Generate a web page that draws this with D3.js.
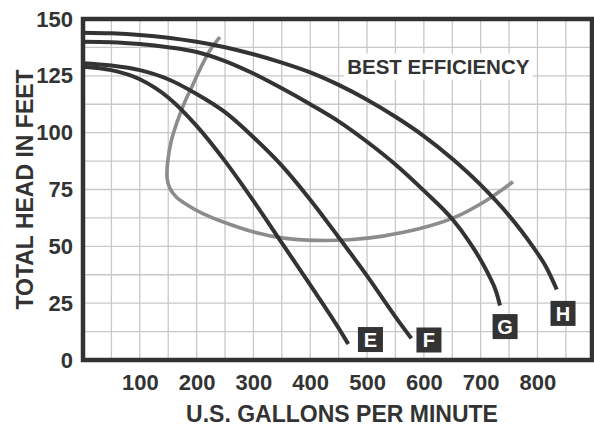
<!DOCTYPE html>
<html>
<head>
<meta charset="utf-8">
<script src="https://cdn.jsdelivr.net/npm/d3@7"></script>
<style>
body { margin: 0; background: #fff; }
svg text { font-family: "Liberation Sans", Arial, Helvetica, sans-serif; font-weight: bold; fill: #333; }
</style>
</head>
<body>
<svg id="chart" width="594" height="427"></svg>
<script>
// tick labels
var yTicks = [0, 25, 50, 75, 100, 125, 150];
var xTicks = [100, 200, 300, 400, 500, 600, 700, 800];

// pump curves, [gallons per minute, feet of head]
var curveE = [[0,129],[50,127.5],[100,123.5],[150,115.5],[200,103],[250,87.5],[300,70],[350,51.5],[400,33],[450,14],[467,7]];
var curveF = [[0,130.5],[50,129.5],[100,127.5],[150,123.5],[200,117],[250,109],[300,98],[350,85.5],[400,70.5],[450,54],[500,37],[550,19],[578,9.5]];
var curveG = [[0,140],[50,139.8],[100,139],[150,137.6],[200,135.5],[250,131.5],[300,126],[350,119.5],[400,112.5],[450,105],[500,96],[550,86],[600,74.5],[650,62],[680,52],[700,44],[715,37],[728,29.5],[734,24]];
var curveH = [[0,144],[50,143.7],[100,143],[150,141.8],[200,140],[250,137.6],[300,134.5],[350,130.8],[400,126.5],[450,121],[500,114.5],[550,107],[600,98.5],[650,88.5],[700,77],[750,63.5],[790,50.5],[815,41],[834,31]];

// best efficiency line
var bestEff = [[241,142],[225,136.8],[210,130],[195,122],[180,114],[166,105],[155,96],[149,87],[148,80],[153,75.5],[165,71.5],[185,68],[210,64.5],[246,60.8],[299,56.4],[353,53.6],[411,52.6],[470,52.9],[528,54.5],[593,57.8],[652,62.5],[710,70.2],[757,78.4]];

var curveNames = ["E", "F", "G", "H"];
var labelGal = [506, 609, 743, 845];
var labelFt = [9, 8.8, 14.7, 20.5];

var svg = d3.select("#chart");

var x = d3.scaleLinear().domain([0, 896]).range([83, 592]);
var y = d3.scaleLinear().domain([0, 150]).range([360, 19]);

// grid
svg.append("g").selectAll("line")
    .data(d3.range(50, 896, 50))
  .enter().append("line")
    .attr("x1", function(d) { return x(d); })
    .attr("x2", function(d) { return x(d); })
    .attr("y1", y(150)).attr("y2", y(0))
    .style("stroke", "#c8c8c8").style("stroke-width", 1.3);

svg.append("g").selectAll("line")
    .data(d3.range(12.5, 150, 12.5))
  .enter().append("line")
    .attr("y1", function(d) { return y(d); })
    .attr("y2", function(d) { return y(d); })
    .attr("x1", x(0)).attr("x2", x(896))
    .style("stroke", "#c8c8c8").style("stroke-width", 1.3);

// BEST EFFICIENCY note with white box under it
var note = svg.append("text")
    .attr("x", x(465)).attr("y", y(126))
    .style("font-size", "20.5px")
    .text("BEST EFFICIENCY");
var bb = note.node().getBBox();
svg.insert("rect", "text")
    .attr("x", bb.x - 3).attr("y", bb.y - 1)
    .attr("width", bb.width + 6).attr("height", bb.height + 3)
    .style("fill", "#fff");

var line = d3.line()
    .x(function(d) { return x(d[0]); })
    .y(function(d) { return y(d[1]); })
    .curve(d3.curveMonotoneX);

svg.append("path")
    .datum(bestEff)
    .attr("d", d3.line()
        .x(function(d) { return x(d[0]); })
        .y(function(d) { return y(d[1]); })
        .curve(d3.curveCatmullRom.alpha(0.5)))
    .style("fill", "none")
    .style("stroke", "#8c8c8c")
    .style("stroke-width", 3.6);

svg.append("g").selectAll("path")
    .data([curveE, curveF, curveG, curveH])
  .enter().append("path")
    .attr("d", line)
    .style("fill", "none")
    .style("stroke", "#333")
    .style("stroke-width", 4);

// frame
svg.append("rect")
    .attr("x", x(0)).attr("y", y(150))
    .attr("width", x(896) - x(0)).attr("height", y(0) - y(150))
    .style("fill", "none").style("stroke", "#333").style("stroke-width", 4.5);

// axes
var yAxis = svg.append("g")
    .attr("transform", "translate(" + x(0) + ",0)")
    .call(d3.axisLeft(y).tickValues(yTicks).tickSize(0).tickPadding(10));
var xAxis = svg.append("g")
    .attr("transform", "translate(0," + y(0) + ")")
    .call(d3.axisBottom(x).tickValues(xTicks).tickSize(0).tickPadding(14));
[yAxis, xAxis].forEach(function(a) {
  a.select(".domain").remove();
  a.attr("font-family", null).attr("font-size", null);
  a.selectAll("text").style("font-size", "22px").style("fill", "#333");
});

// axis titles
svg.append("text")
    .attr("x", 342).attr("y", 422)
    .attr("text-anchor", "middle")
    .style("font-size", "23px")
    .text("U.S. GALLONS PER MINUTE");

svg.append("text")
    .attr("transform", "translate(33," + ((y(0) + y(150)) / 2) + ") rotate(-90)")
    .attr("text-anchor", "middle")
    .style("font-size", "23px")
    .text("TOTAL HEAD IN FEET");

// curve letters
var lab = svg.append("g").selectAll("g")
    .data(curveNames)
  .enter().append("g")
    .attr("transform", function(d, i) { return "translate(" + x(labelGal[i]) + "," + y(labelFt[i]) + ")"; });
lab.append("rect")
    .attr("x", -12.5).attr("y", -12.5).attr("width", 25).attr("height", 25)
    .style("fill", "#333");
lab.append("text")
    .attr("text-anchor", "middle")
    .attr("dy", "0.37em")
    .style("font-size", "20px")
    .style("fill", "#fff")
    .text(function(d) { return d; });
</script>
</body>
</html>
